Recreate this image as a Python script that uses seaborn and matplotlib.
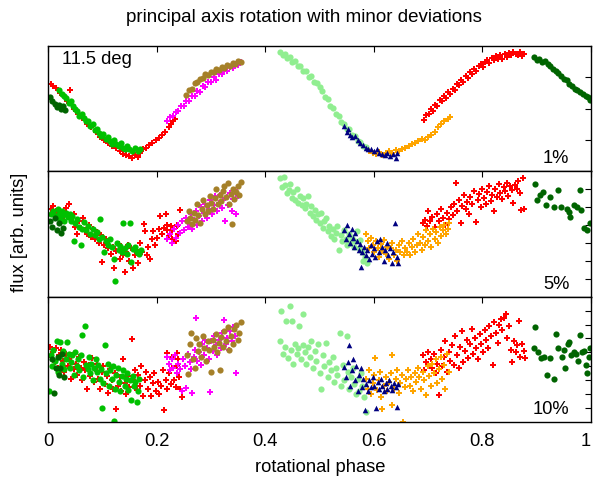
import numpy as np
import pandas as pd
import matplotlib
matplotlib.use("Agg")
import matplotlib.pyplot as plt
import seaborn as sns

# ---------------- data: panel 1 (1%) ----------------
p1_darkgreen_x = [0.003,0.008,0.012,0.016,0.020,0.024,0.028,0.032,
                  0.895,0.900,0.905,0.910,0.915,0.920,0.925,0.930,0.935,0.940,0.945,0.950,0.955,0.960,0.965,0.970,0.975,0.980,0.985,0.990,0.995,0.999]
p1_darkgreen_y = [1.018,1.012,1.008,1.003,1.006,1.000,1.004,0.998,
                  1.082,1.078,1.080,1.074,1.076,1.071,1.068,1.064,1.060,1.057,1.052,1.048,1.046,1.040,1.036,1.032,1.030,1.026,1.024,1.020,1.018,1.014]
p1_green_x = [0.020,0.025,0.030,0.034,0.038,0.042,0.046,0.050,0.054,0.058,0.062,0.066,0.070,0.074,0.078,0.082,0.086,0.090,0.094,0.098,
              0.102,0.106,0.110,0.114,0.118,0.122,0.126,0.130,0.134,0.138,0.142,0.146,0.150,0.155,0.160,0.165,0.170]
p1_green_y = [1.030,1.024,1.020,1.017,1.009,1.012,1.004,1.000,0.996,0.989,0.992,0.985,0.980,0.981,0.972,0.975,0.966,0.968,0.961,0.957,
              0.960,0.952,0.955,0.948,0.944,0.950,0.943,0.940,0.946,0.938,0.936,0.941,0.935,0.932,0.938,0.933,0.936]
p1_red_x = [0.005,0.010,0.015,0.022,0.035,0.041,0.048,0.055,0.063,0.072,0.080,0.088,0.095,0.103,0.110,0.118,0.125,0.132,0.138,0.144,
            0.150,0.155,0.160,0.165,0.170,0.175,0.180,0.186,0.192,0.198,0.204,0.210,0.216,0.222,0.226,0.230,0.234,
            0.693,0.697,0.701,0.705,0.709,0.713,0.717,0.721,0.725,0.729,0.733,0.737,0.741,0.745,0.749,0.753,0.757,0.761,0.765,0.769,
            0.773,0.777,0.781,0.785,0.789,0.793,0.797,0.801,0.805,0.809,0.813,0.817,0.821,0.825,0.829,0.833,0.837,0.841,0.845,0.849,
            0.853,0.857,0.861,0.865,0.869,0.873,0.876]
p1_red_y = [1.040,1.036,1.033,1.025,1.012,1.030,1.000,0.992,0.985,0.976,0.970,0.962,0.955,0.950,0.946,0.940,0.938,0.932,0.928,0.926,
            0.924,0.922,0.926,0.923,0.930,0.935,0.938,0.942,0.946,0.950,0.953,0.958,0.962,0.970,0.976,0.980,0.984,
            0.982,0.990,0.992,0.999,0.997,1.006,1.004,1.014,1.012,1.020,1.017,1.026,1.024,1.032,1.030,1.040,1.037,1.046,1.043,1.052,
            1.049,1.058,1.055,1.064,1.060,1.068,1.071,1.066,1.075,1.078,1.073,1.081,1.077,1.084,1.080,1.085,1.079,1.087,1.083,1.089,
            1.085,1.091,1.088,1.085,1.090,1.084,1.087]
p1_magenta_x = [0.220,0.225,0.230,0.235,0.240,0.245,0.250,0.255,0.260,0.265,0.270,0.275,0.280,0.285,0.290,0.295,0.300,0.305,
                0.310,0.315,0.320,0.325,0.330,0.335,0.340,0.345,0.350,0.355]
p1_magenta_y = [0.980,0.987,0.988,0.995,0.996,1.004,1.004,1.012,1.013,1.020,1.020,1.028,1.027,1.036,1.035,1.043,1.042,1.050,
                1.046,1.056,1.055,1.062,1.060,1.067,1.065,1.071,1.069,1.074]
p1_brown_x = [0.255,0.260,0.265,0.270,0.275,0.280,0.285,0.290,0.295,0.300,0.305,0.310,0.315,0.320,0.325,0.330,0.335,0.340,0.345,0.350,0.355]
p1_brown_y = [1.022,1.029,1.031,1.041,1.043,1.048,1.049,1.055,1.054,1.059,1.058,1.063,1.061,1.067,1.065,1.070,1.068,1.073,1.071,1.076,1.075]
p1_lightgreen_x = [0.428,0.432,0.436,0.440,0.445,0.450,0.455,0.460,0.465,0.470,0.475,0.480,0.485,0.490,0.495,0.500,0.505,0.510,
                   0.515,0.520,0.525,0.530,0.535,0.540,0.545,0.550,0.555,0.560,0.565,0.570,0.575,0.580,0.585]
p1_lightgreen_y = [1.090,1.086,1.088,1.081,1.082,1.075,1.076,1.068,1.068,1.060,1.060,1.051,1.052,1.042,1.041,1.034,1.028,1.018,
                   1.015,1.004,1.001,0.991,0.988,0.978,0.976,0.968,0.967,0.958,0.956,0.949,0.947,0.940,0.939]
p1_navy_x = [0.545,0.550,0.553,0.557,0.560,0.565,0.570,0.575,0.580,0.585,0.590,0.595,0.600,0.605,0.610,0.615,0.620,0.625,0.630,0.635,0.640,0.643]
p1_navy_y = [0.972,0.962,0.968,0.958,0.955,0.957,0.950,0.946,0.942,0.938,0.936,0.935,0.932,0.936,0.930,0.928,0.926,0.930,0.924,0.927,0.922,0.929]
p1_orange_x = [0.592,0.598,0.604,0.610,0.616,0.622,0.628,0.634,0.640,0.646,0.652,0.658,0.664,0.670,0.676,0.682,0.688,0.694,
               0.700,0.706,0.712,0.718,0.724,0.730,0.736,0.740]
p1_orange_y = [0.932,0.930,0.927,0.931,0.926,0.929,0.932,0.930,0.934,0.933,0.936,0.938,0.941,0.944,0.946,0.948,0.951,0.950,
               0.955,0.958,0.963,0.970,0.976,0.980,0.984,0.986]

# ---------------- data: panel 2 (5%) ----------------
p2_darkgreen_x = [0.004,0.008,0.012,0.016,0.020,0.024,0.028,
                  0.897,0.900,0.9055,0.912,0.918,0.924,0.932,0.9385,0.944,0.955,0.959,0.962,0.968,0.974,0.980,0.981,0.987,0.993,0.999]
p2_darkgreen_y = [1.012,0.995,1.020,0.985,1.005,0.978,0.992,
                  1.116,1.069,1.083,1.092,1.055,1.078,1.051,1.097,1.051,1.046,1.037,1.023,1.055,1.051,1.097,1.042,0.991,0.986,1.005]
p2_green_x = [0.005,0.010,0.014,0.018,0.020,0.022,0.025,0.028,0.030,0.033,0.036,0.040,0.042,0.045,0.047,0.050,0.054,0.058,0.060,0.063,
              0.066,0.070,0.074,0.078,0.082,0.086,0.090,0.094,0.096,0.100,0.104,0.107,0.110,0.114,0.117,0.121,0.124,0.127,0.130,0.133,
              0.137,0.139,0.141,0.145,0.148,0.151,0.153,0.156,0.160,0.164,0.168,0.172]
p2_green_y = [1.030,1.040,1.025,1.045,1.032,1.018,1.038,1.028,1.010,1.035,1.022,1.030,1.012,1.026,0.956,1.005,1.018,0.995,0.945,0.990,
              1.008,0.985,0.998,0.975,0.990,0.972,0.980,0.960,1.016,0.968,0.925,0.955,0.945,0.962,0.938,0.905,0.845,0.950,0.930,0.942,
              0.925,1.005,0.935,0.920,0.945,1.005,0.898,0.932,0.940,0.925,0.918,0.930]
p2_red_x = [0.005,0.009,0.012,0.015,0.018,0.022,0.026,0.030,0.034,0.038,0.042,0.047,0.050,0.053,0.057,0.060,0.064,0.068,0.072,0.075,
            0.079,0.083,0.087,0.090,0.094,0.097,0.100,0.103,0.106,0.110,0.113,0.116,0.120,0.122,0.126,0.130,0.133,0.136,0.139,0.141,
            0.144,0.147,0.150,0.153,0.157,0.160,0.163,0.166,0.170,0.173,0.176,0.179,0.182,0.185,0.188,0.191,0.194,0.197,0.200,0.204,
            0.207,0.210,0.213,0.217,0.219,0.220,0.223,0.226,0.228,0.229,0.232,0.235,0.237,0.238,0.240,0.243,
            0.690,0.694,0.698,0.700,0.704,0.708,0.712,0.716,0.720,0.724,0.728,0.731,0.735,0.738,0.742,0.745,0.748,0.751,0.754,0.757,
            0.760,0.763,0.766,0.769,0.772,0.775,0.778,0.781,0.784,0.788,0.791,0.794,0.797,0.800,0.803,0.806,0.809,0.812,0.815,0.818,
            0.821,0.824,0.827,0.830,0.833,0.836,0.839,0.842,0.845,0.848,0.851,0.854,0.857,0.860,0.863,0.866,0.869,0.872,0.875,0.877]
p2_red_y = [1.045,1.052,1.030,1.040,1.022,1.035,1.012,1.025,1.048,1.060,1.018,1.032,0.995,0.975,1.010,0.992,1.020,0.985,0.975,1.000,
            0.968,0.990,0.962,0.980,0.950,0.972,0.898,0.945,0.960,0.935,0.955,0.920,0.940,0.880,0.928,0.948,0.905,0.935,0.915,0.870,
            0.925,0.945,0.900,0.935,0.880,0.915,0.930,0.895,0.951,0.925,1.004,0.983,0.915,0.940,0.905,0.960,0.982,0.944,0.965,0.990,
            1.025,0.975,0.992,1.032,0.999,0.985,0.970,0.998,0.985,0.962,0.990,0.955,0.996,1.000,0.975,1.041,
            1.005,1.014,0.998,1.040,1.010,1.022,0.995,1.030,1.012,1.045,1.020,1.000,1.035,1.018,1.050,1.028,1.060,1.117,1.040,1.070,
            1.005,1.052,1.085,1.045,1.065,1.030,1.078,1.058,1.095,1.009,1.070,1.088,1.050,1.100,1.075,1.060,1.092,1.108,1.068,1.085,
            1.040,1.100,1.078,1.115,1.090,1.072,1.105,1.095,1.118,1.082,1.110,1.098,1.062,1.112,1.100,1.122,1.090,1.042,1.130,1.045]
p2_magenta_x = [0.220,0.224,0.228,0.232,0.236,0.240,0.243,0.247,0.250,0.254,0.257,0.260,0.263,0.266,0.269,0.272,0.275,0.278,0.281,0.284,
                0.287,0.290,0.293,0.296,0.299,0.302,0.305,0.308,0.311,0.314,0.317,0.320,0.323,0.326,0.329,0.332,0.335,0.338,0.341,0.344,
                0.347,0.350]
p2_magenta_y = [0.960,0.975,0.950,0.990,0.965,1.000,0.978,1.010,0.985,1.020,0.995,1.005,1.030,0.990,1.015,1.040,1.000,1.025,1.050,1.010,
                1.035,1.060,1.020,1.045,1.070,1.030,1.055,1.080,1.040,1.062,1.085,1.048,1.070,1.010,1.078,1.055,1.090,1.040,1.072,1.098,
                1.030,1.082]
p2_brown_x = [0.256,0.259,0.262,0.265,0.268,0.271,0.274,0.277,0.280,0.283,0.286,0.289,0.292,0.295,0.298,0.301,0.304,0.307,0.310,0.313,
              0.316,0.319,0.322,0.325,0.328,0.331,0.334,0.337,0.338,0.340,0.343,0.346,0.349,0.352,0.356]
p2_brown_y = [1.010,1.040,1.020,1.002,1.035,1.015,1.060,1.028,1.005,1.045,1.070,1.032,1.055,1.040,1.080,1.062,1.045,1.075,1.100,1.058,
              1.085,1.068,1.095,1.110,1.078,1.118,1.060,1.088,1.002,1.100,1.072,1.092,1.108,1.085,1.120]
p2_lightgreen_x = [0.428,0.431,0.434,0.437,0.440,0.443,0.446,0.449,0.452,0.455,0.458,0.461,0.464,0.467,0.470,0.473,0.476,0.479,0.482,0.485,
                   0.488,0.491,0.494,0.497,0.500,0.503,0.506,0.509,0.512,0.515,0.518,0.521,0.524,0.527,0.530,0.533,0.536,0.539,0.542,0.545,
                   0.548,0.551,0.554,0.557,0.560,0.563,0.566,0.569,0.572,0.575,0.578,0.581,0.584,0.587]
p2_lightgreen_y = [1.130,1.105,1.134,1.112,1.090,1.098,1.116,1.075,1.092,1.070,1.102,1.062,1.082,1.055,1.075,1.048,1.060,1.080,1.035,1.052,
                   1.025,1.042,1.015,1.030,1.005,1.035,0.992,1.010,1.020,0.982,0.998,0.970,0.988,0.962,0.978,0.996,0.930,0.972,0.955,0.986,
                   0.960,0.945,0.975,0.950,0.965,0.940,0.955,0.982,0.935,0.958,0.925,0.900,0.912,0.895]
p2_navy_x = [0.546,0.549,0.551,0.554,0.556,0.559,0.561,0.564,0.566,0.569,0.572,0.574,0.576,0.579,0.582,0.585,0.588,0.591,0.594,0.597,
             0.600,0.603,0.606,0.609,0.612,0.615,0.618,0.621,0.624,0.627,0.630,0.633,0.636,0.639,0.642,0.645]
p2_navy_y = [0.985,0.962,1.000,0.975,0.950,0.990,0.965,0.940,0.978,0.955,0.930,0.948,0.884,0.925,0.940,0.915,0.930,0.905,0.945,0.920,
             0.935,0.910,0.955,0.925,0.962,0.940,0.900,0.930,0.950,0.915,0.935,0.895,0.925,1.005,0.910,0.895]
p2_orange_x = [0.586,0.589,0.592,0.595,0.598,0.601,0.604,0.607,0.610,0.613,0.616,0.619,0.622,0.625,0.628,0.631,0.634,0.637,0.640,0.643,
               0.646,0.649,0.652,0.655,0.658,0.661,0.664,0.667,0.670,0.673,0.676,0.679,0.682,0.685,0.688,0.691,0.694,0.697,0.700,0.703,
               0.706,0.709,0.712,0.715,0.718,0.721,0.724,0.727,0.730,0.733,0.736,0.739]
p2_orange_y = [0.975,0.955,0.935,0.965,0.945,0.925,0.955,0.935,0.910,0.948,0.928,0.958,0.920,0.940,0.905,0.935,0.950,0.915,0.930,0.900,
               0.945,0.925,0.955,0.915,0.935,0.925,0.950,0.915,0.938,0.960,0.925,0.945,0.975,0.950,0.930,0.968,0.945,0.985,0.955,0.975,
               0.940,0.990,0.962,0.980,0.950,0.995,0.970,0.985,1.000,0.975,0.990,1.005]

# ---------------- data: panel 3 (10%) ----------------
p3_darkgreen_x = [0.008,0.011,0.014,0.018,0.020,0.022,0.026,0.029,
                  0.895,0.897,0.902,0.908,0.913,0.919,0.924,0.931,0.935,0.940,0.946,0.950,0.953,0.957,0.960,0.964,0.968,0.972,0.976,
                  0.980,0.984,0.988,0.990,0.993,0.996,0.999]
p3_darkgreen_y = [0.975,0.855,0.943,0.985,0.919,0.943,0.995,0.913,
                  1.015,1.090,1.003,0.979,0.982,0.919,0.980,0.905,1.065,1.015,0.985,1.010,0.943,1.030,1.039,0.990,1.000,0.995,0.970,
                  1.063,1.000,1.005,0.955,0.925,0.985,1.015]
p3_green_x = [0.002,0.005,0.008,0.010,0.013,0.016,0.018,0.021,0.023,0.026,0.028,0.030,0.033,0.035,0.038,0.040,0.043,0.045,0.048,0.050,
              0.053,0.055,0.058,0.060,0.063,0.065,0.068,0.070,0.073,0.075,0.078,0.080,0.083,0.085,0.088,0.090,0.093,0.095,0.098,0.099,
              0.102,0.105,0.107,0.110,0.112,0.115,0.117,0.120,0.121,0.123,0.126,0.128,0.131,0.133,0.136,0.138,0.141,0.143,0.146,0.148,
              0.151,0.153,0.156,0.158,0.161,0.164,0.166,0.168]
p3_green_y = [0.860,0.990,0.950,1.010,0.970,1.040,0.930,0.985,1.039,0.960,1.005,0.940,0.975,1.039,0.995,0.945,0.965,0.990,0.920,1.000,
              0.950,0.975,0.935,0.990,1.063,0.910,1.093,0.955,0.940,0.985,0.925,0.960,0.900,0.945,0.975,0.930,0.955,0.905,0.940,0.799,
              0.890,1.027,0.925,0.960,0.880,0.935,0.905,0.950,0.753,0.870,0.920,0.945,0.895,0.860,0.915,0.935,0.880,0.905,0.925,0.865,
              0.900,0.830,0.915,0.880,0.895,0.823,0.860,0.905]
p3_red_x = [0.003,0.006,0.009,0.012,0.015,0.018,0.021,0.024,0.027,0.030,0.033,0.036,0.039,0.042,0.045,0.048,0.051,0.054,0.057,0.060,
            0.063,0.066,0.069,0.072,0.075,0.078,0.081,0.084,0.087,0.090,0.093,0.096,0.099,0.102,0.105,0.108,0.111,0.114,0.117,0.120,
            0.123,0.126,0.129,0.132,0.135,0.138,0.141,0.144,0.147,0.150,0.154,0.157,0.160,0.163,0.166,0.169,0.172,0.175,0.178,0.181,
            0.184,0.187,0.190,0.193,0.196,0.199,0.202,0.205,0.208,0.211,0.214,0.217,0.219,0.220,0.223,0.226,0.228,0.229,0.232,0.235,
            0.237,0.238,0.240,0.241,0.244,0.247,
            0.690,0.693,0.696,0.699,0.702,0.705,0.708,0.711,0.714,0.717,0.720,0.723,0.726,0.729,0.732,0.735,0.738,0.741,0.744,0.747,
            0.750,0.753,0.756,0.759,0.762,0.765,0.768,0.771,0.774,0.777,0.780,0.783,0.786,0.789,0.792,0.795,0.798,0.801,0.804,0.807,
            0.810,0.813,0.816,0.819,0.822,0.825,0.828,0.831,0.834,0.837,0.840,0.843,0.846,0.849,0.852,0.855,0.858,0.861,0.864,0.867,
            0.870,0.873,0.876,0.879]
p3_red_y = [1.020,0.985,1.000,0.965,1.015,0.945,0.990,1.010,0.970,0.930,0.995,0.950,0.975,0.905,0.990,0.940,0.960,0.920,0.985,0.945,
            0.900,0.965,0.935,0.870,0.955,0.915,0.980,0.895,0.940,0.960,0.905,0.870,0.930,0.950,0.885,0.915,0.855,0.940,0.900,0.870,
            0.925,0.795,0.880,0.910,0.860,0.975,0.890,0.850,0.915,0.875,1.047,0.900,0.935,0.865,0.920,0.880,0.950,0.845,0.900,0.930,
            0.870,0.910,0.845,0.890,0.925,0.860,0.895,0.850,0.880,0.935,0.793,0.900,0.999,0.870,0.925,0.885,0.985,0.945,0.900,0.875,
            0.996,0.950,0.975,0.910,0.870,0.841,
            0.990,0.935,0.965,1.000,0.915,0.975,0.945,0.995,0.925,0.960,0.847,1.010,0.950,0.985,1.040,0.930,1.000,0.970,1.025,0.955,
            1.060,0.990,0.943,1.020,1.075,0.965,1.005,1.045,0.980,1.030,1.085,0.995,1.050,1.015,0.975,1.065,1.030,1.000,1.080,1.045,
            1.015,1.095,1.060,0.955,1.110,1.070,1.035,1.100,1.120,1.080,1.125,1.139,1.050,1.095,1.010,0.967,1.040,1.000,1.025,1.111,
            0.985,1.030,1.005,0.980]
p3_magenta_x = [0.219,0.222,0.225,0.228,0.231,0.234,0.237,0.240,0.243,0.246,0.249,0.252,0.255,0.258,0.261,0.264,0.265,0.268,0.271,0.272,
                0.275,0.278,0.281,0.284,0.287,0.290,0.293,0.296,0.298,0.300,0.303,0.306,0.309,0.312,0.315,0.318,0.321,0.324,0.327,0.330,
                0.333,0.336,0.339,0.341,0.344,0.347]
p3_magenta_y = [0.985,0.960,0.935,0.975,0.945,0.990,0.925,0.960,0.940,0.861,0.975,0.950,0.871,0.995,0.965,0.940,0.853,0.985,1.010,1.125,
                0.970,1.000,0.955,1.030,0.990,1.045,1.015,0.975,0.859,1.040,1.005,1.060,1.025,0.990,1.045,1.015,1.070,1.115,1.030,1.050,
                1.010,1.075,1.040,1.091,1.060,0.927]
p3_brown_x = [0.256,0.258,0.261,0.264,0.267,0.270,0.273,0.276,0.279,0.282,0.285,0.288,0.291,0.294,0.297,0.300,0.303,0.306,0.309,0.312,
              0.315,0.316,0.319,0.322,0.325,0.328,0.331,0.334,0.337,0.340,0.343,0.346,0.349,0.352,0.355]
p3_brown_y = [0.990,0.923,1.030,1.069,0.975,0.943,1.051,1.005,1.030,0.985,1.060,1.015,0.970,1.040,1.010,0.928,1.045,1.020,1.065,1.000,
              1.035,0.935,1.055,1.020,1.075,1.040,1.090,1.010,1.060,1.030,1.085,1.100,1.045,1.070,1.110]
p3_lightgreen_x = [0.428,0.430,0.433,0.436,0.439,0.442,0.445,0.447,0.450,0.452,0.455,0.458,0.461,0.463,0.466,0.469,0.470,0.473,0.476,0.479,
                   0.482,0.485,0.488,0.491,0.494,0.497,0.500,0.503,0.506,0.509,0.512,0.515,0.518,0.521,0.524,0.527,0.530,0.533,0.537,0.540,
                   0.543,0.546,0.550,0.552,0.555,0.558,0.561,0.564,0.567,0.570,0.573,0.576,0.579,0.582,0.585]
p3_lightgreen_y = [1.040,1.150,0.995,1.020,1.112,0.980,1.165,1.010,1.112,0.960,1.030,0.995,1.015,1.095,0.975,1.025,1.137,1.000,0.960,1.020,
                   0.985,1.040,0.945,1.005,0.970,1.030,0.925,0.868,0.990,0.950,1.035,0.910,0.965,0.935,0.985,0.895,0.945,0.920,1.071,0.880,
                   0.955,0.900,1.060,0.930,0.870,0.910,0.945,0.885,0.850,0.905,0.860,0.925,0.880,0.840,0.787]
p3_navy_x = [0.546,0.549,0.552,0.555,0.557,0.560,0.562,0.565,0.568,0.570,0.573,0.576,0.579,0.581,0.583,0.586,0.589,0.592,0.595,0.598,
             0.601,0.604,0.607,0.610,0.613,0.616,0.619,0.622,0.625,0.628,0.631,0.634,0.637,0.640,0.642,0.645]
p3_navy_y = [0.947,0.910,0.965,1.025,0.880,0.935,0.975,0.900,0.950,0.860,0.920,0.945,0.875,0.905,0.793,0.885,0.860,0.900,0.875,0.910,
             0.880,0.799,0.895,0.870,0.905,0.880,0.860,0.890,0.870,0.900,0.880,0.865,0.890,0.875,0.803,0.885]
p3_orange_x = [0.586,0.589,0.592,0.595,0.598,0.601,0.603,0.606,0.609,0.612,0.614,0.616,0.619,0.622,0.625,0.628,0.631,0.633,0.634,0.637,
               0.640,0.643,0.646,0.649,0.652,0.654,0.657,0.660,0.663,0.666,0.669,0.672,0.675,0.678,0.681,0.684,0.687,0.690,0.693,0.696,
               0.699,0.702,0.705,0.708,0.711,0.714,0.717,0.720,0.723,0.726,0.729,0.732,0.735,0.738]
p3_orange_y = [0.905,0.870,0.935,0.850,0.890,0.920,0.979,0.865,0.900,0.930,0.840,0.795,0.880,0.910,0.860,0.895,0.925,0.991,0.811,0.870,
               0.905,0.935,0.855,0.890,0.920,0.751,0.875,0.905,0.935,0.880,0.910,0.860,0.925,0.895,0.945,0.910,0.870,0.930,0.900,0.847,
               0.950,0.915,0.880,0.960,0.925,0.975,0.890,0.940,0.985,0.905,0.955,0.870,0.995,0.930]

panel_labels = ["1%", "5%", "10%"]
panel_ylims = [(0.90, 1.10), (0.80, 1.15), (0.75, 1.20)]
panel_yticks = [[0.95, 1.00, 1.05],
                [0.85, 0.90, 0.95, 1.00, 1.05, 1.10],
                [0.80, 0.85, 0.90, 0.95, 1.00, 1.05, 1.10, 1.15]]
xticks = [0, 0.2, 0.4, 0.6, 0.8, 1.0]
xticklabels = ["0", "0.2", "0.4", "0.6", "0.8", "1"]

# draw order (bottom -> top)
group_order = ["red", "magenta", "brown", "green", "darkgreen", "orange", "lightgreen", "navy"]
colors = {"red": "#ff0000", "magenta": "#ff00ff", "brown": "#a58029", "green": "#00c000",
          "darkgreen": "#006400", "orange": "#ffa500", "lightgreen": "#90ee90", "navy": "#000080"}
markers = {"red": "P", "magenta": "P", "brown": "o", "green": "o", "darkgreen": "o",
           "orange": "P", "lightgreen": "o", "navy": "^"}
sizes = {"red": 20, "magenta": 20, "brown": 20, "green": 20, "darkgreen": 20,
         "orange": 20, "lightgreen": 20, "navy": 16}

panels_data = [
    {"red": (p1_red_x, p1_red_y), "magenta": (p1_magenta_x, p1_magenta_y), "brown": (p1_brown_x, p1_brown_y),
     "green": (p1_green_x, p1_green_y), "darkgreen": (p1_darkgreen_x, p1_darkgreen_y),
     "orange": (p1_orange_x, p1_orange_y), "lightgreen": (p1_lightgreen_x, p1_lightgreen_y), "navy": (p1_navy_x, p1_navy_y)},
    {"red": (p2_red_x, p2_red_y), "magenta": (p2_magenta_x, p2_magenta_y), "brown": (p2_brown_x, p2_brown_y),
     "green": (p2_green_x, p2_green_y), "darkgreen": (p2_darkgreen_x, p2_darkgreen_y),
     "orange": (p2_orange_x, p2_orange_y), "lightgreen": (p2_lightgreen_x, p2_lightgreen_y), "navy": (p2_navy_x, p2_navy_y)},
    {"red": (p3_red_x, p3_red_y), "magenta": (p3_magenta_x, p3_magenta_y), "brown": (p3_brown_x, p3_brown_y),
     "green": (p3_green_x, p3_green_y), "darkgreen": (p3_darkgreen_x, p3_darkgreen_y),
     "orange": (p3_orange_x, p3_orange_y), "lightgreen": (p3_lightgreen_x, p3_lightgreen_y), "navy": (p3_navy_x, p3_navy_y)},
]

sns.set_theme(style="white")
plt.rcParams['font.family'] = ['Liberation Sans', 'DejaVu Sans']
FS = 13.2
plt.rcParams['font.size'] = FS

W, H = 593, 486
fig, axes = plt.subplots(3, 1, figsize=(W / 100, H / 100), dpi=100, sharex=True)
fig.subplots_adjust(left=48 / W, right=591 / W, top=1 - 46 / H, bottom=1 - 422 / H, hspace=0)

for i, ax in enumerate(axes):
    for g in group_order:
        gx, gy = panels_data[i][g]
        df = pd.DataFrame({"phase": gx, "flux": gy})
        sns.scatterplot(data=df, x="phase", y="flux", color=colors[g], marker=markers[g],
                        s=sizes[g], linewidth=0, legend=False, ax=ax, zorder=3)
    ax.set_xlim(0, 1)
    ax.set_ylim(*panel_ylims[i])
    ax.set_yticks(panel_yticks[i])
    ax.set_yticklabels([])
    ax.set_xticks(xticks)
    ax.set_xlabel("")
    ax.set_ylabel("")
    ax.tick_params(axis="both", direction="in", top=True, right=True, length=4.5, width=0.8,
                   colors="black", labelsize=FS, pad=8)
    ax.tick_params(axis="x", labelbottom=(i == 2))
    for sp in ax.spines.values():
        sp.set_color("black")
        sp.set_linewidth(1.0)
        sp.set_zorder(5)
    ax.text(0.96, 0.1, panel_labels[i], transform=ax.transAxes, ha="right", va="center",
            fontsize=FS, color="black")

axes[2].set_xticklabels(xticklabels)
axes[2].get_xticklabels()[-1].set_horizontalalignment("right")
axes[0].text(0.026, 0.89, "11.5 deg", transform=axes[0].transAxes, ha="left", va="center",
             fontsize=FS, color="black")

fig.text(304 / W, 1 - 17 / H, "principal axis rotation with minor deviations",
         ha="center", va="center", fontsize=FS + 0.3, color="black")
fig.text(320 / W, 1 - 467 / H, "rotational phase", ha="center", va="center",
         fontsize=FS, color="black")
fig.text(20 / W, 1 - 232 / H, "flux [arb. units]", ha="center", va="center",
         rotation=90, fontsize=FS, color="black")

fig.savefig("out.png", dpi=100)
